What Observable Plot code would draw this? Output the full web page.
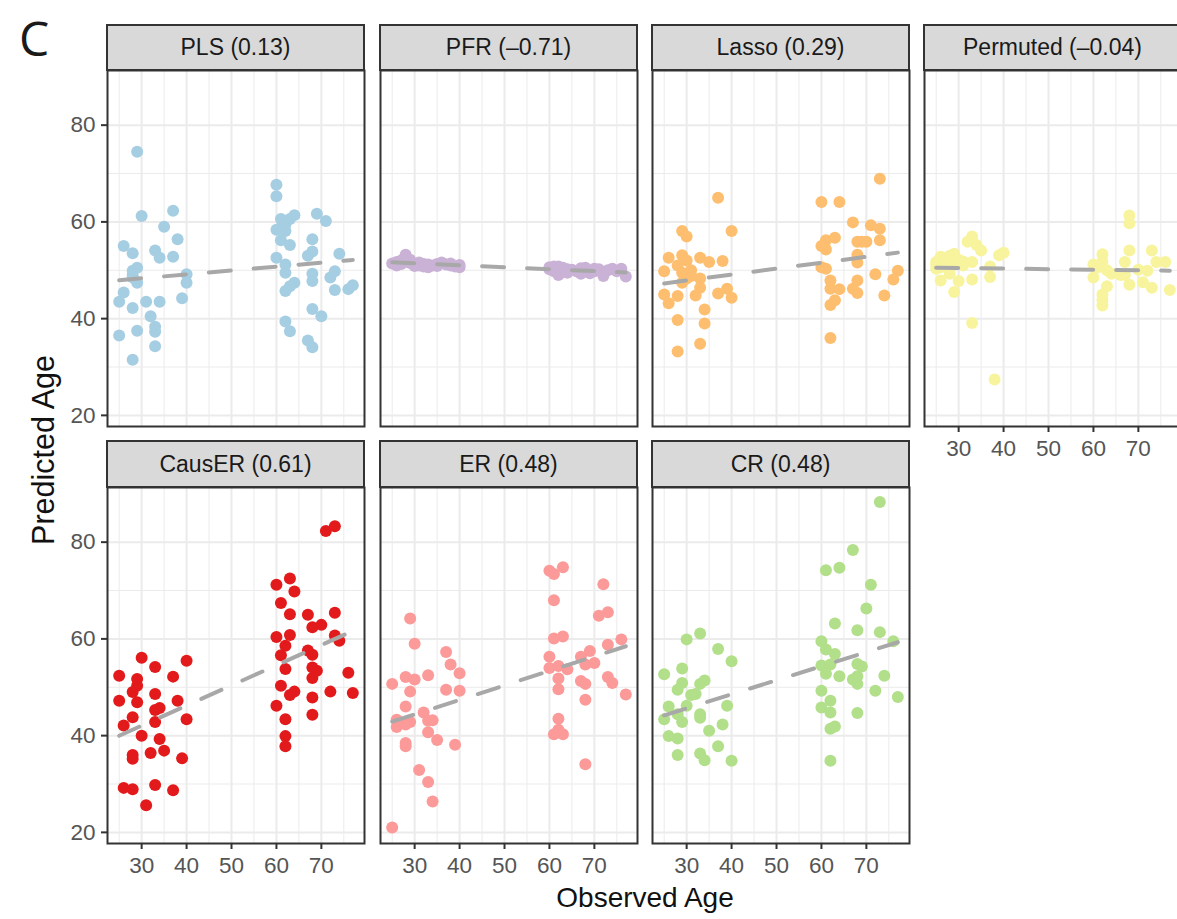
<!DOCTYPE html>
<html><head><meta charset="utf-8">
<script src="https://cdn.jsdelivr.net/npm/d3@7"></script>
<script src="https://cdn.jsdelivr.net/npm/@observablehq/plot@0.6"></script>
<style>
body{margin:0;background:#fff;overflow:hidden;}
#root{position:relative;width:1177px;height:919px;overflow:hidden;font-family:"Liberation Sans",Arial,sans-serif;background:#fff;}
.strip{position:absolute;box-sizing:border-box;background:#d9d9d9;border:2px solid #333;display:flex;align-items:center;justify-content:center;font-size:23px;color:#1a1a1a;white-space:nowrap;}
.plot{position:absolute;}
.lbl{position:absolute;color:#111;white-space:nowrap;}
</style></head><body><div id="root"></div>
<script>
// ---- data (observed age, predicted age) ----
const methods = ["PLS", "PFR", "Lasso", "Permuted", "CausER", "ER", "CR"];
const stripLabels = ["PLS (0.13)", "PFR (\u20130.71)", "Lasso (0.29)", "Permuted (\u20130.04)", "CausER (0.61)", "ER (0.48)", "CR (0.48)"];
const colors = ["#A6CEE3", "#CAB2D6", "#FDBF6F", "#F8F49E", "#E31A1C", "#FB9A99", "#B2DF8A"];

const pls = [[29,74.5],[30,61.2],[37,62.3],[35,59.0],[38,56.4],[26,55.0],[28,53.5],[33,54.1],[34,52.6],[37,52.8],[28,49.9],[40,49.2],[29,47.4],[40,47.4],[26,45.4],[25,43.5],[28,42.2],[31,43.5],[34,43.5],[39,44.2],[32,40.5],[25,36.5],[29,37.5],[33,38.3],[33,37.3],[33,34.3],[28,31.5],[28,48.5],[28,49.0],[29,50.5],
 [60,67.7],[60,65.3],[61,60.6],[64,61.4],[63,60.6],[60,58.4],[62,58.1],[61,56.2],[63,55.2],[69,61.7],[71,60.2],[68,56.4],[67,53.0],[68,53.9],[74,53.4],[60,52.6],[62,51.2],[62,49.5],[68,49.3],[68,47.8],[73,49.8],[72,48.5],[64,47.4],[63,46.7],[62,45.7],[73,45.9],[76,46.1],[77,46.9],[68,42.0],[70,40.5],[62,39.4],[63,37.4],[67,35.5],[68,34.1],[61,58.6],[62,59.5]];

const pfr = [[25,51.4],[26,51.7],[27,52.0],[28,52.7],[28,53.2],[29,51.5],[30,51.2],[31,51.0],[32,50.8],[32,51.3],[33,50.6],[34,51.0],[35,51.3],[36,51.6],[37,51.2],[38,51.0],[39,50.8],[40,50.6],[26,51.0],[29,52.2],[33,51.2],[30,50.9],[31,51.6],[27,51.3],[35,50.9],[38,51.4],[40,51.1],
 [60,50.6],[61,49.8],[62,49.0],[62,50.2],[63,50.5],[63,49.6],[64,50.2],[61,50.8],[66,49.8],[67,50.4],[67,49.3],[68,50.0],[69,49.4],[70,49.8],[71,50.2],[72,48.8],[72,49.6],[73,50.0],[74,50.3],[75,49.8],[76,50.3],[77,48.7],[65,50.1],[60,50.2],[62,50.8],[64,49.5],[68,50.5],[70,50.3]];

const lasso = [[37,65.0],[29,58.1],[30,57.0],[40,58.1],[26,52.6],[29,53.1],[28,51.0],[25,49.8],[31,50.0],[33,52.6],[35,51.7],[38,51.9],[30,48.3],[29,47.4],[33,48.3],[33,46.4],[25,45.0],[26,43.2],[28,44.7],[32,44.8],[37,45.2],[39,46.2],[40,44.3],[34,41.9],[28,39.7],[34,39.0],[33,34.8],[28,33.2],[29,49.5],[31,48.8],[30,52.0],
 [73,68.9],[60,64.1],[64,64.1],[67,59.9],[71,59.3],[73,58.6],[73,56.2],[60,55.0],[61,54.3],[61,56.2],[63,56.7],[68,55.9],[70,55.9],[69,55.9],[68,53.2],[68,51.6],[60,50.6],[61,50.3],[62,47.9],[62,46.2],[64,46.1],[63,43.8],[62,42.8],[67,46.2],[68,45.3],[68,47.9],[72,49.2],[77,49.9],[76,48.1],[74,44.8],[62,36.0]];

const permuted = [[33,57.0],[32,55.9],[34,55.2],[35,54.1],[39,53.1],[40,53.6],[29,53.4],[28,52.6],[25,51.7],[26,52.1],[33,51.7],[25,50.3],[31,51.0],[28,49.3],[26,47.9],[30,47.8],[33,48.1],[37,50.8],[37,48.6],[29,45.5],[33,39.1],[38,27.4],
 [25,51.2],[26,52.8],[27,52.0],[28,53.0],[29,51.6],[30,52.2],[27,50.8],[31,51.8],[28,51.5],[26,50.6],
 [68,61.3],[68,59.7],[68,54.1],[73,54.1],[62,53.3],[67,51.7],[60,51.2],[61,50.6],[63,50.0],[64,49.3],[70,50.1],[72,49.9],[74,51.7],[76,51.7],[67,49.0],[60,48.5],[63,46.7],[62,45.0],[62,43.8],[62,42.7],[68,47.0],[71,47.5],[73,46.4],[77,45.9],[66,49.0],[62,51.8]];

const causer = [[73,83.3],[71,82.3],[63,72.5],[60,71.2],[64,69.8],[61,67.4],[63,65.1],[67,65.0],[73,65.4],[68,62.4],[70,62.9],[60,60.4],[63,60.8],[62,58.6],[73,60.7],[74,59.6],[61,56.6],[67,57.6],[68,56.7],[62,53.8],[68,54.1],[69,53.4],[68,51.9],[76,53.0],[61,50.3],[64,49.1],[63,48.4],[68,47.9],[72,49.1],[77,48.8],[60,46.2],[62,43.4],[68,44.3],[62,39.9],[62,37.8],
 [30,56.1],[40,55.5],[33,54.2],[25,52.4],[37,52.2],[29,51.7],[29,50.3],[28,49.0],[33,48.6],[25,47.2],[29,46.9],[38,47.2],[33,45.3],[34,45.7],[28,43.8],[33,42.8],[40,43.4],[26,42.1],[30,40.0],[34,39.3],[35,36.9],[28,36.0],[28,35.2],[32,36.4],[39,35.3],[26,29.2],[28,28.9],[33,29.8],[37,28.7],[31,25.6]];

const er = [[29,64.2],[30,59.0],[37,57.3],[38,54.7],[40,52.9],[25,50.7],[28,52.1],[30,51.6],[33,52.5],[29,49.1],[37,49.5],[40,49.3],[28,46.0],[32,44.8],[26,43.3],[26,41.8],[28,42.3],[29,42.8],[33,43.1],[34,43.2],[33,40.7],[35,39.1],[28,38.5],[28,37.8],[39,38.1],[31,32.9],[33,30.4],[34,26.4],[25,21.0],
 [60,74.1],[61,73.4],[63,74.8],[72,71.3],[61,68.0],[71,64.8],[73,65.5],[61,60.1],[63,60.5],[73,58.8],[76,59.9],[60,56.3],[69,57.5],[67,56.3],[60,54.0],[62,54.4],[64,53.7],[68,54.7],[70,55.0],[62,51.8],[62,49.6],[67,51.3],[68,50.7],[73,52.1],[74,50.9],[77,48.5],[68,47.4],[62,43.5],[62,41.2],[63,40.3],[61,40.3],[68,34.1]];

const cr = [[73,88.3],[67,78.4],[61,74.2],[64,74.7],[71,71.2],[70,66.3],[63,63.2],[68,61.8],[73,61.4],[76,59.5],[60,59.5],[61,57.8],[63,56.9],[60,54.5],[62,54.7],[61,52.8],[68,54.8],[69,54.3],[64,52.3],[74,52.4],[67,51.6],[68,52.3],[68,50.7],[60,49.3],[72,49.3],[77,48.0],[62,47.2],[60,45.8],[62,44.8],[68,44.7],[62,41.4],[63,41.9],[62,34.8],
 [30,59.9],[33,61.1],[37,57.9],[40,55.4],[25,52.7],[29,53.9],[29,50.9],[28,49.5],[33,50.7],[34,51.4],[31,48.4],[32,48.6],[26,46.0],[30,46.2],[28,44.4],[25,43.4],[29,42.8],[33,44.4],[33,43.7],[39,46.2],[38,42.3],[35,41.0],[26,39.9],[28,39.4],[28,36.0],[33,36.3],[34,34.9],[37,37.8],[40,34.8]];

const series = [pls, pfr, lasso, permuted, causer, er, cr];

const xTicks = [30, 40, 50, 60, 70];
const xMinor = [25, 35, 45, 55, 65, 75];
const yTicks = [20, 40, 60, 80];
const yMinor = [30, 50, 70];

// ---- layout ----
const root = document.getElementById("root");
const colLeft = [107, 380, 652, 924];
const plotTopRow = [70, 487];
const stripTopRow = [24, 440];
const PW = 257, PH = 356, ML = 70, MB = 50;

methods.forEach((m, i) => {
  const col = i % 4, row = Math.floor(i / 4);
  const data = series[i];
  const showY = col === 0;
  const showX = row === 1 || i === 3;
  const marks = [
    Plot.ruleX(xMinor, {stroke: "#ebebeb", strokeWidth: 1}),
    Plot.ruleY(yMinor, {stroke: "#ebebeb", strokeWidth: 1}),
    Plot.ruleX(xTicks, {stroke: "#ebebeb", strokeWidth: 2}),
    Plot.ruleY(yTicks, {stroke: "#ebebeb", strokeWidth: 2}),
    Plot.dot(data, {x: d => d[0], y: d => d[1], r: 6, fill: colors[i], stroke: "none"}),
    Plot.linearRegressionY(data, {x: d => d[0], y: d => d[1], ci: 0, stroke: "#a8a8a8", strokeWidth: 4, strokeDasharray: "22,23"}),
    Plot.frame({stroke: "#333", strokeWidth: 2})
  ];
  if (showY) marks.push(Plot.axisY(yTicks, {tickSize: 6, tickPadding: 6, stroke: "#333", strokeWidth: 2, fill: "#555", fontSize: 22.5, label: null}));
  if (showX) marks.push(Plot.axisX(xTicks, {tickSize: 6, tickPadding: 8, stroke: "#333", strokeWidth: 2, fill: "#555", fontSize: 22.5, label: null}));
  const svg = Plot.plot({
    width: PW + ML,
    height: PH + MB,
    marginLeft: ML, marginRight: 0, marginTop: 0, marginBottom: MB,
    x: {domain: [22.4, 79.6], axis: null},
    y: {domain: [17.7, 91.3], axis: null},
    style: {fontFamily: "Liberation Sans, Arial, sans-serif", background: "transparent", overflow: "visible"},
    marks
  });
  svg.classList.add("plot");
  svg.style.left = (colLeft[col] - ML) + "px";
  svg.style.top = plotTopRow[row] + "px";
  root.appendChild(svg);

  const s = document.createElement("div");
  s.className = "strip";
  s.textContent = stripLabels[i];
  s.style.left = (colLeft[col] - 1) + "px";
  s.style.top = stripTopRow[row] + "px";
  s.style.width = (PW + 2) + "px";
  s.style.height = (plotTopRow[row] - stripTopRow[row] + 1) + "px";
  root.appendChild(s);
});

function addLabel(text, css) {
  const d = document.createElement("div");
  d.className = "lbl";
  d.textContent = text;
  Object.assign(d.style, css);
  root.appendChild(d);
}
addLabel("C", {left: "19px", top: "14px", fontSize: "48px", fontFamily: "Open Sans, Liberation Sans, sans-serif", color: "#1a1a1a", lineHeight: "48px"});
addLabel("Observed Age", {left: "645px", top: "898px", fontSize: "28px", transform: "translate(-50%,-50%)", lineHeight: "30px"});
addLabel("Predicted Age", {left: "43px", top: "450px", fontSize: "30.5px", transform: "translate(-50%,-50%) rotate(-90deg)", lineHeight: "30px"});
</script></body></html>
